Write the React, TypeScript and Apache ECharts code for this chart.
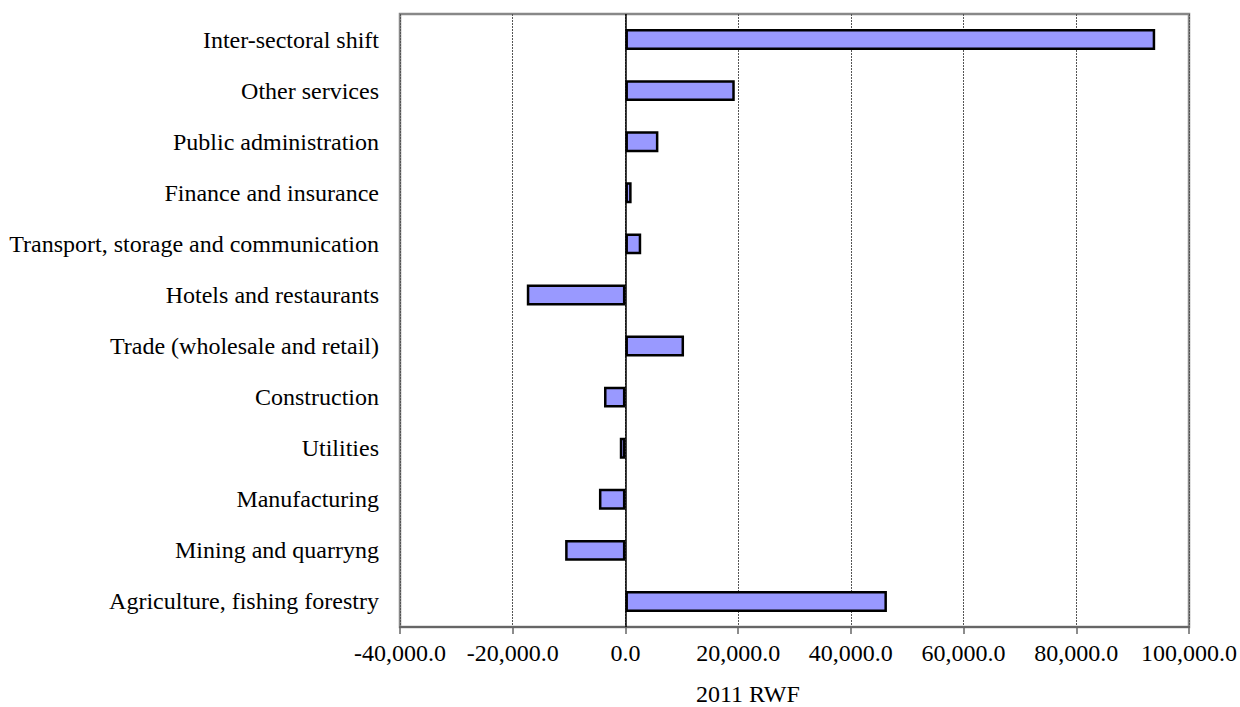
import React, { useEffect, useRef } from "react";
import * as echarts from "echarts";

const categories = [
  "Agriculture, fishing forestry",
  "Mining and quarryng",
  "Manufacturing",
  "Utilities",
  "Construction",
  "Trade (wholesale and retail)",
  "Hotels and restaurants",
  "Transport, storage and communication",
  "Finance and insurance",
  "Public administration",
  "Other services",
  "Inter-sectoral shift",
];

const values = [46400, -10700, -4700, -1000, -3800, 10400, -17500, 2800, 1100, 5850, 19400, 94000];

const axisTitle = "2011 RWF";

const FONT = "'Liberation Serif', 'Times New Roman', serif";

export default function App() {
  const ref = useRef<HTMLDivElement>(null);

  useEffect(() => {
    if (!ref.current) return;
    const chart = echarts.init(ref.current, undefined, { renderer: "svg" });
    chart.setOption({
      animation: false,
      backgroundColor: "#ffffff",
      grid: {
        left: 400,
        right: 51,
        top: 14,
        bottom: 80,
        show: true,
        borderColor: "#888888",
        borderWidth: 2.5,
        backgroundColor: "transparent",
      },
      xAxis: {
        type: "value",
        min: -40000,
        max: 100000,
        interval: 20000,
        axisLine: { show: true, lineStyle: { color: "#666666", width: 2 } },
        axisTick: { show: true, length: 7, lineStyle: { color: "#666666", width: 1.5 } },
        splitLine: {
          show: true,
          lineStyle: { color: "#555555", type: [2, 1], width: 1 },
        },
        axisLabel: {
          color: "#000000",
          fontFamily: FONT,
          fontSize: 24,
          margin: 14,
          formatter: (v: number) =>
            v.toLocaleString("en-US", { minimumFractionDigits: 1, maximumFractionDigits: 1 }),
        },
      },
      yAxis: {
        type: "category",
        data: categories,
        axisLine: { show: false },
        axisTick: { show: false },
        splitLine: { show: false },
        axisLabel: {
          color: "#000000",
          fontFamily: FONT,
          fontSize: 24,
          margin: 21,
        },
      },
      graphic: [
        {
          type: "text",
          left: 696,
          top: 682,
          style: {
            text: axisTitle,
            fill: "#000000",
            font: `24px ${FONT}`,
          },
        },
      ],
      series: [
        {
          type: "bar",
          data: values,
          barWidth: "41%",
          itemStyle: { color: "#9999FF", borderColor: "#000000", borderWidth: 2.5 },
          markLine: {
            silent: true,
            symbol: "none",
            label: { show: false },
            lineStyle: { color: "#000000", type: "solid", width: 1.5 },
            data: [{ xAxis: 0 }],
          },
        },
      ],
    });
    return () => chart.dispose();
  }, []);

  return (
    <div
      ref={ref}
      style={{ position: "fixed", left: 0, top: 0, width: 1240, height: 707 }}
    />
  );
}
